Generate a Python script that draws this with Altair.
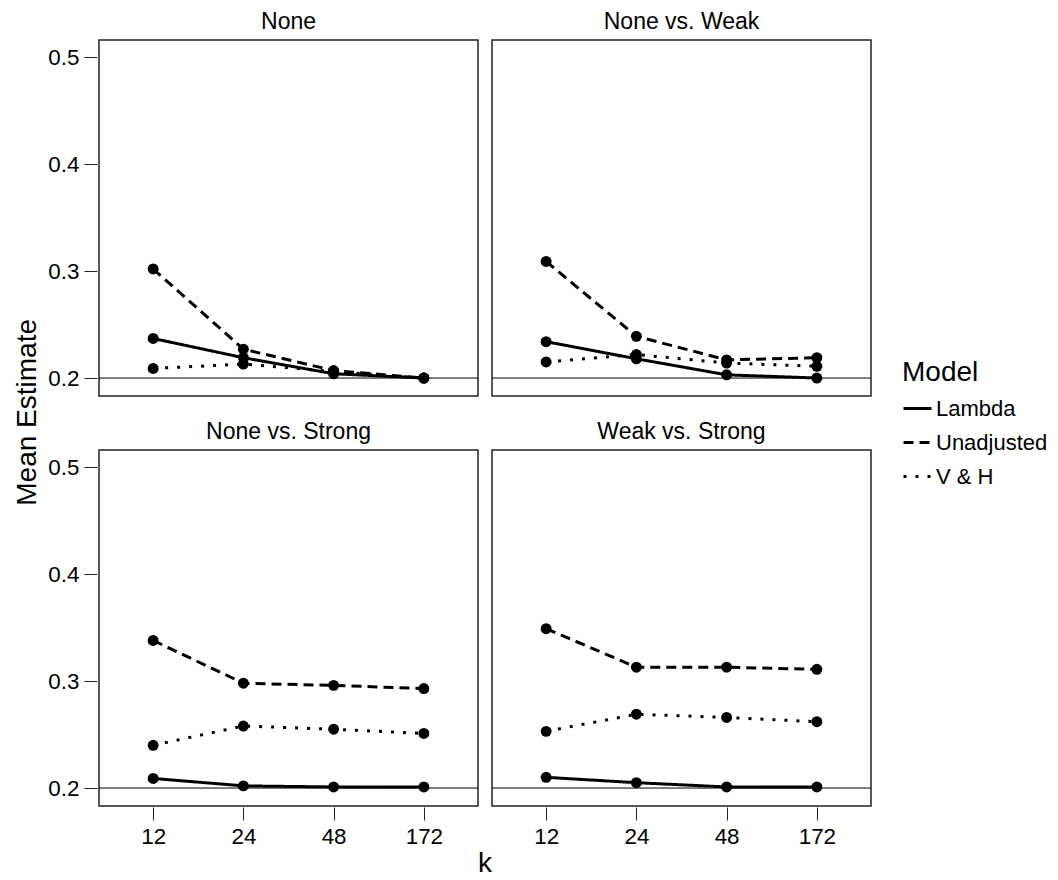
import altair as alt
import pandas as pd

k_levels = ["12", "24", "48", "172"]
panels = ["None", "None vs. Weak", "None vs. Strong", "Weak vs. Strong"]
models = ["Lambda", "Unadjusted", "V & H"]

# Mean estimates per panel, in k order 12, 24, 48, 172
none_lambda = [0.237, 0.219, 0.204, 0.200]
none_unadj = [0.302, 0.227, 0.207, 0.200]
none_vh = [0.209, 0.213, 0.206, 0.200]

weak_lambda = [0.234, 0.218, 0.203, 0.200]
weak_unadj = [0.309, 0.239, 0.217, 0.219]
weak_vh = [0.215, 0.222, 0.214, 0.211]

strong_lambda = [0.209, 0.202, 0.201, 0.201]
strong_unadj = [0.338, 0.298, 0.296, 0.293]
strong_vh = [0.240, 0.258, 0.255, 0.251]

ws_lambda = [0.210, 0.205, 0.201, 0.201]
ws_unadj = [0.349, 0.313, 0.313, 0.311]
ws_vh = [0.253, 0.269, 0.266, 0.262]

series = {
    "None": [none_lambda, none_unadj, none_vh],
    "None vs. Weak": [weak_lambda, weak_unadj, weak_vh],
    "None vs. Strong": [strong_lambda, strong_unadj, strong_vh],
    "Weak vs. Strong": [ws_lambda, ws_unadj, ws_vh],
}

rows = []
for p in panels:
    for m, vals in zip(models, series[p]):
        for k, v in zip(k_levels, vals):
            rows.append({"panel": p, "Model": m, "k": k, "est": v})
df = pd.DataFrame(rows)

FONT = "Liberation Sans"

x_enc = alt.X("k:O", sort=k_levels, title=None,
              scale=alt.Scale(type="point", padding=0.6),
              axis=alt.Axis(labelAngle=0))
y_enc = alt.Y("est:Q", title=None,
              scale=alt.Scale(domain=[0.1832, 0.5161], nice=False, zero=False),
              axis=alt.Axis(values=[0.2, 0.3, 0.4, 0.5], format=".1f"))

base = alt.Chart().properties(width=379, height=356)

ref = base.mark_rule(color="black", strokeWidth=1).encode(
    y=alt.datum(0.2)
).transform_filter("datum.k == '12' && datum.Model == 'Lambda'")

lines = base.mark_line(color="black", strokeWidth=3).encode(
    x=x_enc, y=y_enc,
    strokeDash=alt.StrokeDash(
        "Model:N",
        scale=alt.Scale(domain=models, range=[[1, 0], [10, 6], [3, 9]]),
        legend=alt.Legend(title="Model", orient="none", legendX=803, legendY=319,
                          symbolType="stroke", symbolSize=784,
                          symbolStrokeWidth=3, symbolStrokeColor="black",
                          titleFontSize=28, titleFontWeight="normal",
                          labelFontSize=22, titlePadding=6, rowPadding=7,
                          labelOffset=3),
    ),
)

points = base.mark_point(filled=True, size=120, color="black", opacity=1).encode(
    x=x_enc, y=y_enc
)

facet_chart = alt.layer(ref, lines, points, data=df).facet(
    facet=alt.Facet("panel:N", sort=panels, title=None,
                    header=alt.Header(labelFontSize=23, labelFont=FONT,
                                      labelColor="black", labelPadding=6)),
    columns=2,
    spacing=alt.RowColnumber(row=23, column=10),
).properties(
    title=alt.TitleParams("k", orient="bottom", anchor="middle", frame="group",
                          font=FONT, fontSize=28, fontWeight="normal",
                          color="black", offset=3, dx=386)
)

chart = alt.vconcat(facet_chart).properties(
    title=alt.TitleParams("Mean Estimate", orient="left", anchor="middle",
                          frame="bounds", font=FONT, fontSize=28,
                          fontWeight="normal", color="black", offset=6, dx=32),
    padding={"left": 5, "top": 2, "right": 0, "bottom": 0},
).configure_view(
    stroke="#222", strokeWidth=1.5
).configure_axis(
    domain=False, grid=False, tickColor="#222", tickSize=13, tickWidth=1,
    labelFont=FONT, labelFontSize=22.4, labelColor="black", labelPadding=5,
    titleFont=FONT, titleFontSize=28, titleFontWeight="normal", titleColor="black",
).configure_legend(
    labelFont=FONT, titleFont=FONT, labelColor="black", titleColor="black"
)

chart.save("out.html", embed_options={"renderer": "svg", "actions": False})
